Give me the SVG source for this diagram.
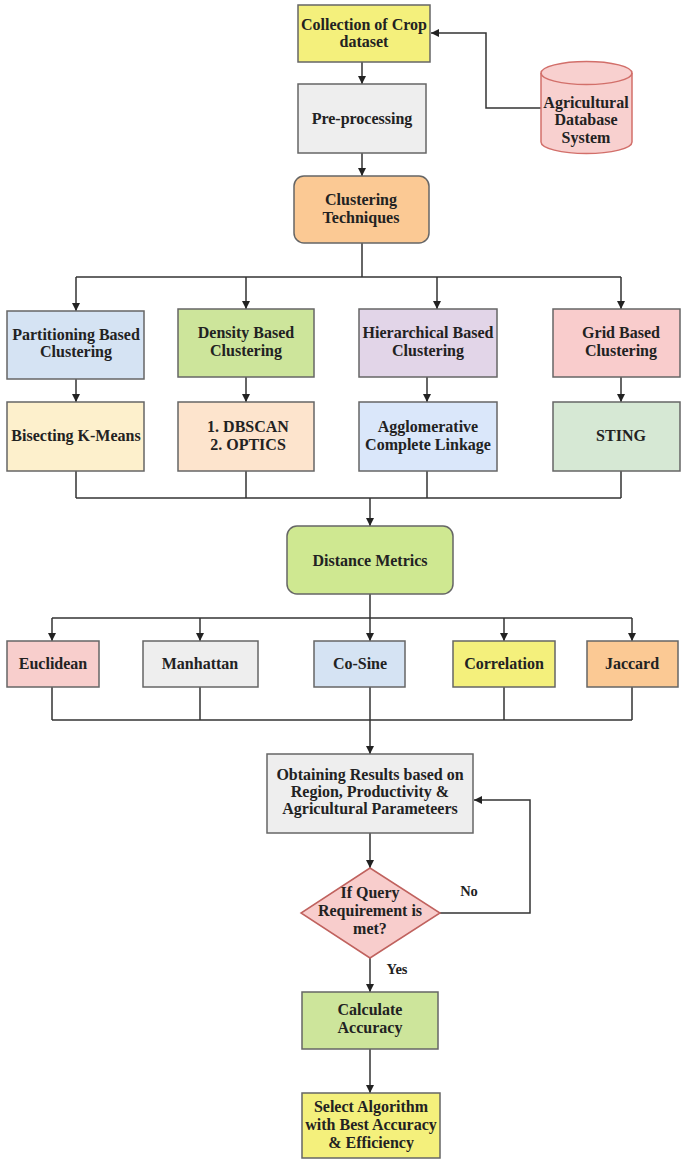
<svg xmlns="http://www.w3.org/2000/svg" width="681" height="1159" viewBox="0 0 681 1159">
  <defs>
    <marker id="arrow" viewBox="0 0 10 10" refX="10" refY="5" markerWidth="8" markerHeight="8" markerUnits="userSpaceOnUse" orient="auto">
      <path d="M0,0 L10,5 L0,10 Z" fill="#222"/>
    </marker>
    <style>
      text { font-family: "Liberation Serif", "Times New Roman", serif; font-weight: bold; font-size: 16px; fill: #222; text-anchor: middle; }
      .box { stroke: #666; stroke-width: 1.5; }
      .edge { fill: none; stroke: #333; stroke-width: 1.5; }
      .arr { marker-end: url(#arrow); }
      .lbl { font-size: 14.5px; }
    </style>
  </defs>
  <rect width="681" height="1159" fill="#ffffff"/>

  <!-- connectors -->
  <g id="connectors">
    <path class="edge arr" d="M362,62 V84"/>
    <path class="edge arr" d="M362,153 V176"/>
    <path class="edge arr" d="M541,108 H486 V33 H431"/>
    <!-- split to clustering families -->
    <path class="edge" d="M362,243 V277"/>
    <path class="edge" d="M76,277 H621"/>
    <path class="edge arr" d="M76,277 V311"/>
    <path class="edge arr" d="M246,277 V309"/>
    <path class="edge arr" d="M437,277 V309"/>
    <path class="edge arr" d="M621,277 V309"/>
    <path class="edge arr" d="M76,379 V402"/>
    <path class="edge arr" d="M246,377 V402"/>
    <path class="edge arr" d="M427,377 V402"/>
    <path class="edge arr" d="M621,377 V402"/>
    <!-- merge into distance metrics -->
    <path class="edge" d="M76,471 V498 M246,471 V498 M427,471 V498 M621,471 V498"/>
    <path class="edge" d="M76,498 H621"/>
    <path class="edge arr" d="M370,498 V526"/>
    <!-- split to metrics -->
    <path class="edge" d="M370,594 V618"/>
    <path class="edge" d="M52,618 H632"/>
    <path class="edge arr" d="M52,618 V641"/>
    <path class="edge arr" d="M200,618 V641"/>
    <path class="edge arr" d="M370,618 V641"/>
    <path class="edge arr" d="M504,618 V641"/>
    <path class="edge arr" d="M632,618 V641"/>
    <!-- merge into results -->
    <path class="edge" d="M52,687 V720 M200,687 V720 M504,687 V720 M632,687 V720"/>
    <path class="edge" d="M52,720 H632"/>
    <path class="edge arr" d="M370,687 V754"/>
    <path class="edge arr" d="M370,833 V868"/>
    <path class="edge arr" d="M440,913 H530 V800 H474"/>
    <path class="edge arr" d="M370,958 V992"/>
    <path class="edge arr" d="M370,1049 V1093"/>
    <text class="lbl" x="469" y="896">No</text>
    <text class="lbl" x="397" y="974">Yes</text>
  </g>

  <g id="collection">
    <rect class="box" x="298" y="5" width="132" height="57" fill="#f4f07c" stroke="#555"/>
    <text x="364" y="30">Collection of Crop</text>
    <text x="364" y="47">dataset</text>
  </g>

  <g id="database">
    <path d="M541,73 A45.5,11.5 0 0 1 632,73 V142 A45.5,11.5 0 0 1 541,142 Z" fill="#f8d0cf" stroke="#d26f6a" stroke-width="1.5"/>
    <path d="M541,73 A45.5,11.5 0 0 0 632,73" fill="none" stroke="#d26f6a" stroke-width="1.5"/>
    <text x="586" y="108">Agricultural</text>
    <text x="586" y="125">Database</text>
    <text x="586" y="143">System</text>
  </g>

  <g id="preprocessing">
    <rect class="box" x="298" y="84" width="128" height="69" fill="#eeeeee" stroke="#777"/>
    <text x="362" y="124">Pre-processing</text>
  </g>

  <g id="clustering">
    <rect class="box" x="294" y="176" width="135" height="67" rx="10" fill="#fbc994"/>
    <text x="361" y="205">Clustering</text>
    <text x="361" y="223">Techniques</text>
  </g>

  <g id="partitioning">
    <rect class="box" x="7" y="311" width="137" height="68" fill="#d5e3f3"/>
    <text x="76" y="340">Partitioning Based</text>
    <text x="76" y="357">Clustering</text>
  </g>

  <g id="density">
    <rect class="box" x="178" y="309" width="136" height="68" fill="#cde59b"/>
    <text x="246" y="338">Density Based</text>
    <text x="246" y="356">Clustering</text>
  </g>

  <g id="hierarchical">
    <rect class="box" x="359" y="309" width="138" height="68" fill="#e2d5e8" stroke="#b597c8"/>
    <text x="428" y="338">Hierarchical Based</text>
    <text x="428" y="356">Clustering</text>
  </g>

  <g id="grid">
    <rect class="box" x="553" y="309" width="127" height="68" fill="#f9cccc"/>
    <text x="621" y="338">Grid Based</text>
    <text x="621" y="356">Clustering</text>
  </g>

  <g id="bisecting">
    <rect class="box" x="7" y="402" width="137" height="69" fill="#fdf0cc" stroke="#ecd48a"/>
    <text x="76" y="441">Bisecting K-Means</text>
  </g>

  <g id="dbscan">
    <rect class="box" x="178" y="402" width="136" height="69" fill="#fde4cd" stroke="#eeaa44"/>
    <text x="248" y="432">1. DBSCAN</text>
    <text x="248" y="450">2. OPTICS</text>
  </g>

  <g id="agglomerative">
    <rect class="box" x="359" y="402" width="138" height="69" fill="#dae7fa" stroke="#8fb0e0"/>
    <text x="428" y="432">Agglomerative</text>
    <text x="428" y="450">Complete Linkage</text>
  </g>

  <g id="sting">
    <rect class="box" x="553" y="402" width="127" height="69" fill="#d6e8d4" stroke="#9cc38a"/>
    <text x="621" y="441">STING</text>
  </g>

  <g id="distance">
    <rect class="box" x="287" y="526" width="166" height="68" rx="10" fill="#cfe891"/>
    <text x="370" y="566">Distance Metrics</text>
  </g>

  <g id="euclidean">
    <rect class="box" x="7" y="641" width="92" height="46" fill="#f8cecc"/>
    <text x="53" y="669">Euclidean</text>
  </g>

  <g id="manhattan">
    <rect class="box" x="143" y="641" width="115" height="46" fill="#eeeeee"/>
    <text x="200" y="669">Manhattan</text>
  </g>

  <g id="cosine">
    <rect class="box" x="314" y="641" width="91" height="46" fill="#d5e3f3"/>
    <text x="360" y="669">Co-Sine</text>
  </g>

  <g id="correlation">
    <rect class="box" x="453" y="641" width="102" height="46" fill="#f4f07c"/>
    <text x="504" y="669">Correlation</text>
  </g>

  <g id="jaccard">
    <rect class="box" x="587" y="641" width="91" height="46" fill="#fbc994"/>
    <text x="632" y="669">Jaccard</text>
  </g>

  <g id="results">
    <rect class="box" x="267" y="754" width="206" height="79" fill="#eeeeee"/>
    <text x="370" y="780">Obtaining Results based on</text>
    <text x="370" y="797">Region, Productivity &amp;</text>
    <text x="370" y="814">Agricultural Parameteers</text>
  </g>

  <g id="query">
    <path d="M370,868 L440,913 L370,958 L301,913 Z" fill="#f8cdcc" stroke="#c0625e" stroke-width="1.5"/>
    <text x="370" y="898">If Query</text>
    <text x="370" y="916">Requirement is</text>
    <text x="370" y="934">met?</text>
  </g>

  <g id="accuracy">
    <rect class="box" x="302" y="992" width="136" height="57" fill="#cde59b"/>
    <text x="370" y="1015">Calculate</text>
    <text x="370" y="1033">Accuracy</text>
  </g>

  <g id="select">
    <rect class="box" x="302" y="1093" width="138" height="65" fill="#f4f07c"/>
    <text x="371" y="1112">Select Algorithm</text>
    <text x="371" y="1130">with Best Accuracy</text>
    <text x="371" y="1148">&amp; Efficiency</text>
  </g>
</svg>
